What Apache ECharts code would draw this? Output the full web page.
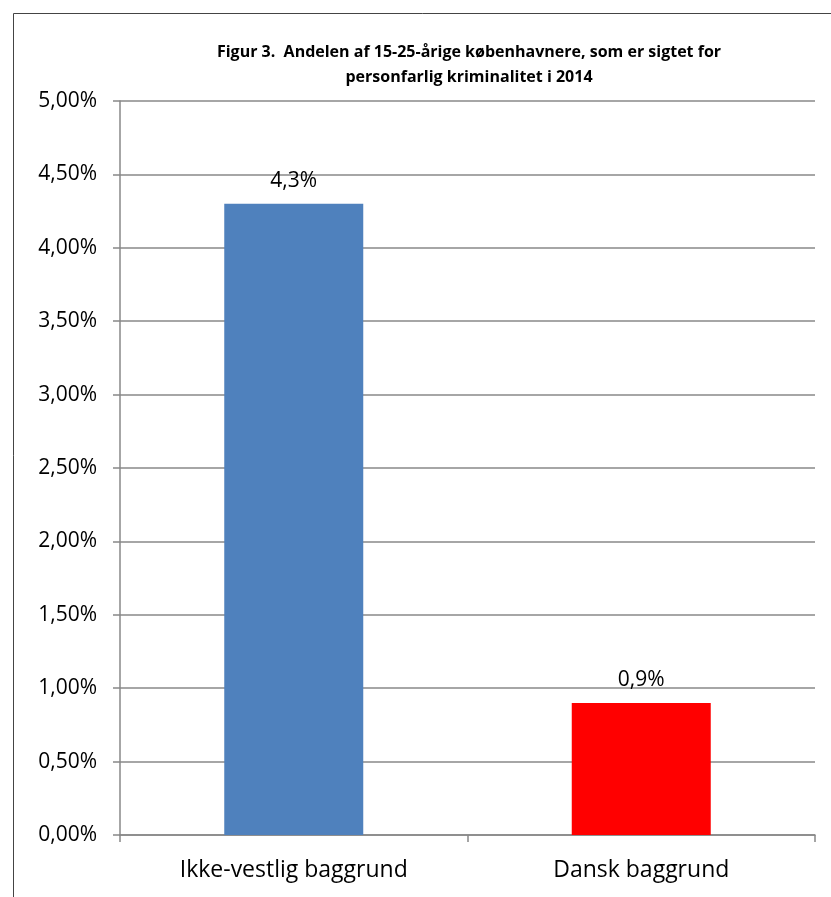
<!DOCTYPE html>
<html>
<head>
<meta charset="utf-8">
<script src="https://cdn.jsdelivr.net/npm/echarts@6/dist/echarts.min.js"></script>
<style>
  html, body { margin: 0; padding: 0; background: #fff; }
  #chart { width: 831px; height: 897px; }
</style>
</head>
<body>
<div id="chart"></div>
<script>
const categories = ['Ikke-vestlig baggrund', 'Dansk baggrund'];
const values = [4.3, 0.9];
const barColors = ['#4f81bd', '#ff0000'];
const titleLines = [
  'Figur 3.  Andelen af 15-25-årige københavnere, som er sigtet for',
  'personfarlig kriminalitet i 2014'
];

const font = '"Open Sans", sans-serif';
const chart = echarts.init(document.getElementById('chart'));

const option = {
  animation: false,
  graphic: [
    {
      type: 'rect',
      shape: { x: 13.5, y: 13.5, width: 840, height: 900 },
      style: { fill: 'none', stroke: '#444', lineWidth: 1 }
    }
  ],
  title: {
    text: titleLines.join('\n'),
    left: 464,
    top: 35,
    textAlign: 'center',
    textStyle: {
      fontFamily: font,
      fontWeight: 'bold',
      fontSize: 16,
      lineHeight: 25,
      color: '#000'
    }
  },
  grid: { left: 120, top: 101, right: 16, bottom: 62, containLabel: false },
  xAxis: {
    type: 'category',
    data: categories,
    axisLine: { lineStyle: { color: '#888', width: 1.5 } },
    axisTick: { show: true, length: 7, lineStyle: { color: '#888', width: 1.5 } },
    axisLabel: { color: '#000', fontSize: 23, fontFamily: font, margin: 24 }
  },
  yAxis: {
    type: 'value',
    min: 0,
    max: 5,
    interval: 0.5,
    axisLine: { show: true, lineStyle: { color: '#888', width: 1.5 } },
    axisTick: { show: true, length: 7, lineStyle: { color: '#888', width: 1.5 } },
    splitLine: { lineStyle: { color: '#888', width: 1.5 } },
    axisLabel: {
      color: '#000',
      fontSize: 21,
      fontFamily: font,
      margin: 23,
      formatter: v => v.toFixed(2).replace('.', ',') + '%'
    }
  },
  series: [
    {
      type: 'bar',
      barWidth: '40%',
      data: values.map((v, i) => ({ value: v, itemStyle: { color: barColors[i] } })),
      label: {
        show: true,
        position: 'top',
        distance: 12,
        color: '#000',
        fontSize: 21,
        fontFamily: font,
        formatter: p => p.value.toFixed(1).replace('.', ',') + '%'
      }
    }
  ]
};

chart.setOption(option);
</script>
</body>
</html>
